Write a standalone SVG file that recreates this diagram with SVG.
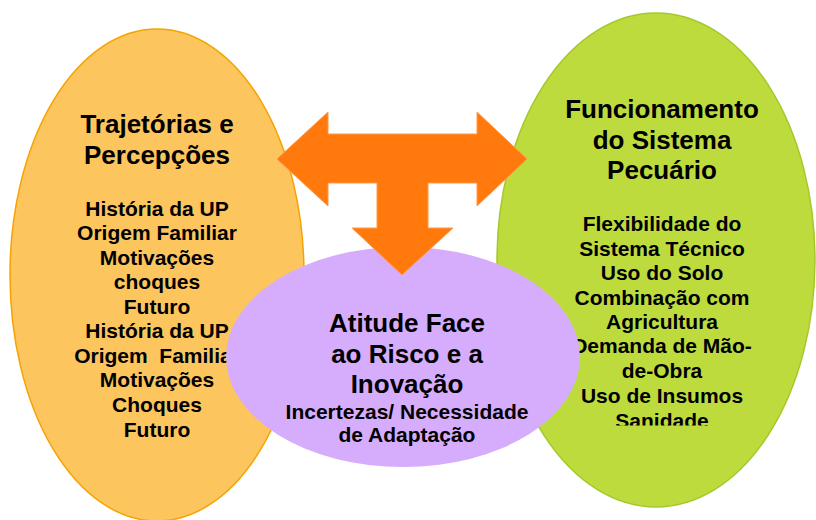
<svg xmlns="http://www.w3.org/2000/svg" width="816" height="520" viewBox="0 0 816 520">
<style>
text{font-family:"Liberation Sans",Arial,sans-serif;font-weight:bold;fill:#000;text-anchor:middle}
.t{font-size:26px}
.b{font-size:21px}
</style>
<defs>
<clipPath id="clipR"><rect x="480" y="0" width="336" height="425.5"/></clipPath>
</defs>
<rect width="816" height="520" fill="#fff"/>
<g id="node-trajetorias">
<ellipse cx="157" cy="275" rx="147" ry="246" fill="#FDC55E" stroke="#F5A300" stroke-width="1.5"/>
<text class="t" x="157" y="133">Trajetórias e</text>
<text class="t" x="157" y="164">Percepções</text>
<text class="b" x="157" y="216">História da UP</text>
<text class="b" x="157" y="240">Origem Familiar</text>
<text class="b" x="157" y="265">Motivações</text>
<text class="b" x="157" y="289">choques</text>
<text class="b" x="157" y="314">Futuro</text>
<text class="b" x="157" y="338">História da UP</text>
<text class="b" x="157" y="363" xml:space="preserve">Origem  Familiar</text>
<text class="b" x="157" y="387">Motivações</text>
<text class="b" x="157" y="412">Choques</text>
<text class="b" x="157" y="437">Futuro</text>
</g>
<g id="node-funcionamento">
<ellipse cx="656" cy="260" rx="159" ry="247" fill="#BEDB3E" stroke="#A3C928" stroke-width="1.5"/>
<text class="t" x="662" y="118">Funcionamento</text>
<text class="t" x="662" y="149">do Sistema</text>
<text class="t" x="662" y="179">Pecuário</text>
<g clip-path="url(#clipR)">
<text class="b" x="662" y="231">Flexibilidade do</text>
<text class="b" x="662" y="256">Sistema Técnico</text>
<text class="b" x="662" y="280">Uso do Solo</text>
<text class="b" x="662" y="305">Combinação com</text>
<text class="b" x="662" y="329">Agricultura</text>
<text class="b" x="662" y="353">Demanda de Mão-</text>
<text class="b" x="662" y="378">de-Obra</text>
<text class="b" x="662" y="403">Uso de Insumos</text>
<text class="b" x="662" y="428">Sanidade</text>
</g>
</g>
<g id="node-atitude">
<ellipse cx="403" cy="357" rx="177" ry="110" fill="#D6ADFC"/>
<text class="t" x="407" y="332">Atitude Face</text>
<text class="t" x="407" y="363">ao Risco e a</text>
<text class="t" x="407" y="393">Inovação</text>
<text class="b" x="407" y="419">Incertezas/ Necessidade</text>
<text class="b" x="407" y="442">de Adaptação</text>
</g>
<g id="connectors">
<path d="M277,159 L328,112 L328,134 L477,134 L477,112 L527,159 L477,206 L477,183 L428,183 L428,228 L453,228 L402,275 L352,228 L377,228 L377,183 L328,183 L328,206 Z" fill="#FF790C" stroke="#FF9A4A" stroke-width="1"/>
</g>
</svg>
